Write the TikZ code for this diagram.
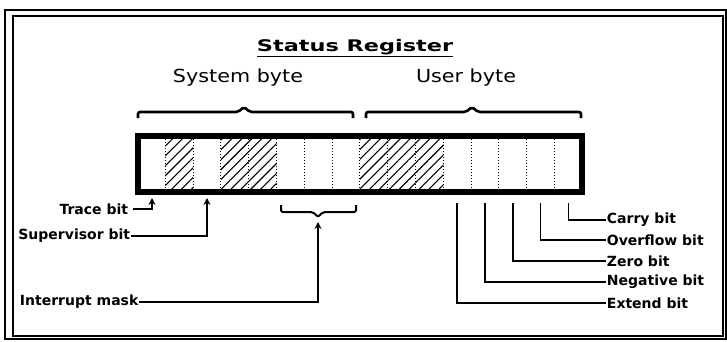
\documentclass[tikz,border=0pt]{standalone}
\usepackage{fontspec}
\setmainfont{DejaVu Sans}
\usetikzlibrary{arrows.meta,patterns.meta}

\tikzset{
  titlelabel/.style={inner sep=0.75pt, xscale=1.4, font=\bfseries\fontsize{16}{19}\selectfont},
  bytelabel/.style={inner sep=0.75pt, xscale=1.15, font=\fontsize{18}{21}\selectfont},
  bitlabel/.style={inner sep=0.75pt, font=\bfseries\fontsize{14}{16}\selectfont},
  bitline/.style={line width=1.6pt},
  bitarrow/.style={line width=1.6pt, -{Stealth[length=7pt,width=7pt]}},
  bytebrace/.style={line width=2.6pt, rounded corners=2pt},
}

\begin{document}
\begin{tikzpicture}[x=1pt,y=1pt,yscale=-1,xscale=1]
\useasboundingbox (0,0) rectangle (727,341);

%Frame
\draw[line width=1.5pt] (5,10) rectangle (726,339);
\draw[line width=2.5pt] (13,16) rectangle (723,336);

% Text Node
\node[titlelabel] (title) at (355,48) {\underline{Status Register}};
\node[bytelabel] (sysbyte) at (238,78) {System byte};
\node[bytelabel] (usrbyte) at (466,78) {User byte};

%Braces
\draw[bytebrace] (138,118) -- (138,112) -- (238,112) -- (244,107) -- (250,112) -- (353,112) -- (353,118);
\draw[bytebrace] (366,118) -- (366,112) -- (466,112) -- (472,107) -- (478,112) -- (581,112) -- (581,118);

%Register: unused bits hatched
\foreach \i in {1,3,4,8,9,10}
  \fill[pattern={Lines[angle=45,distance=7pt,line width=1.1pt]}] ({137.5+27.8*\i},139) rectangle ({137.5+27.8*(\i+1)},189);
\foreach \i in {1,...,15}
  \draw[dotted, line width=1pt] ({137.5+27.8*\i},139) -- ({137.5+27.8*\i},189);
\draw[line width=6pt] (137.5,136) rectangle (582.3,192);

%Bit ends
\coordinate (tbit) at (152,198);
\coordinate (sbit) at (207,198);
\coordinate (imask) at (318,222);
\coordinate (xbit) at (457.2,203);
\coordinate (nbit) at (485,203);
\coordinate (zbit) at (512.8,203);
\coordinate (vbit) at (540.6,203);
\coordinate (cbit) at (568.4,203);

%Interrupt mask brace
\draw[bytebrace, line width=2pt] (281,205) -- (281,212) -- (313,212) -- (318,217) -- (323,212) -- (356,212) -- (356,205);

% Text Node
\node[bitlabel, anchor=east] (trace) at (129,209) {Trace bit};
\node[bitlabel, anchor=east] (super) at (131,236) {Supervisor bit};
\node[bitlabel, anchor=west] (intr) at (19,302) {Interrupt mask};
\node[bitlabel, anchor=west] (carry) at (606,220) {Carry bit};
\node[bitlabel, anchor=west] (ovfl) at (606,240) {Overflow bit};
\node[bitlabel, anchor=west] (zero) at (606,261) {Zero bit};
\node[bitlabel, anchor=west] (negv) at (606,282) {Negative bit};
\node[bitlabel, anchor=west] (extd) at (606,303) {Extend bit};

%Connectors
\draw[bitarrow] ([xshift=4pt]trace.east) -| (tbit);
\draw[bitarrow] (super.east) -| (sbit);
\draw[bitarrow] (intr.east) -| (imask);
\draw[bitline] (cbit) |- (carry.west);
\draw[bitline] (vbit) |- (ovfl.west);
\draw[bitline] (zbit) |- (zero.west);
\draw[bitline] (nbit) |- (negv.west);
\draw[bitline] (xbit) |- (extd.west);

\end{tikzpicture}
\end{document}
